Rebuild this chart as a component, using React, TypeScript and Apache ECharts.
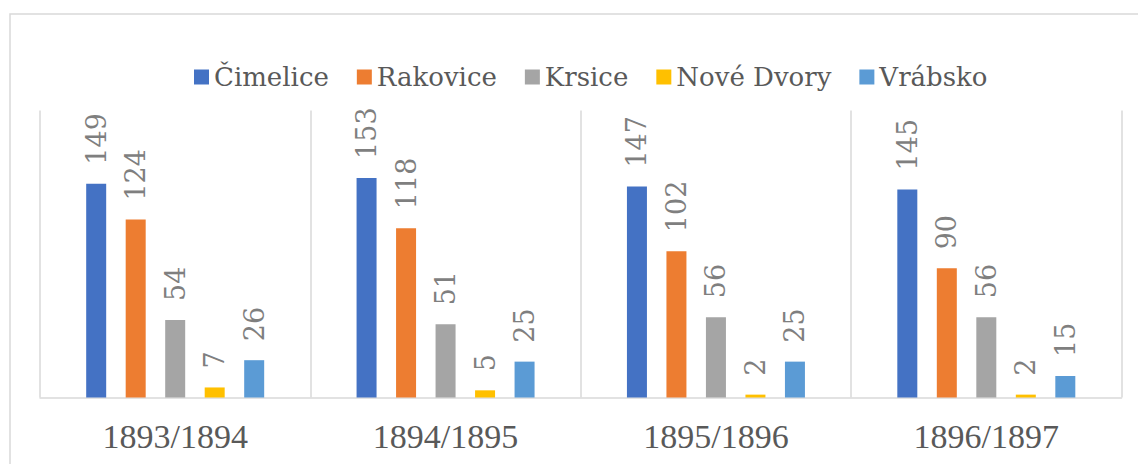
import React, { useEffect, useRef } from "react";
import * as echarts from "echarts";

const categories = ["1893/1894", "1894/1895", "1895/1896", "1896/1897"];
const seriesNames = ["Čimelice", "Rakovice", "Krsice", "Nové Dvory", "Vrábsko"];
const cimelice = [149, 153, 147, 145];
const rakovice = [124, 118, 102, 90];
const krsice = [54, 51, 56, 56];
const noveDvory = [7, 5, 2, 2];
const vrabsko = [26, 25, 25, 15];
const colors = ["#4472c4", "#ed7d31", "#a5a5a5", "#ffc000", "#5b9bd5"];

const FONT = "Liberation Serif";
const FONT2 = "DejaVu Serif";

export default function App() {
  const ref = useRef<HTMLDivElement>(null);
  useEffect(() => {
    if (!ref.current) return;
    const chart = echarts.init(ref.current, null, { renderer: "svg" });
    const values = [cimelice, rakovice, krsice, noveDvory, vrabsko];
    chart.setOption({
      animation: false,
      backgroundColor: "#ffffff",
      graphic: [
        {
          type: "rect",
          shape: { x: 10, y: 14, width: 1140, height: 470 },
          style: { fill: "none", stroke: "#d9d9d9", lineWidth: 1.5 },
          silent: true,
        },
      ],
      legend: {
        left: 189,
        top: 59,
        itemWidth: 15,
        itemHeight: 15,
        itemGap: 28,
        icon: "rect",
        textStyle: {
          fontFamily: FONT2,
          fontSize: 26,
          color: "#595959",
        },
        data: seriesNames,
      },
      grid: { left: 40, right: 16.5, top: 110.5, bottom: 66.5, containLabel: false },
      xAxis: {
        type: "category",
        data: categories,
        axisLine: { show: true, lineStyle: { color: "#d9d9d9", width: 1.5 } },
        axisTick: { show: false },
        splitLine: { show: true, lineStyle: { color: "#d9d9d9", width: 1.5 } },
        axisLabel: {
          fontFamily: FONT,
          fontSize: 34,
          color: "#595959",
          margin: 22,
        },
      },
      yAxis: {
        type: "value",
        min: 0,
        max: 200,
        show: false,
        splitLine: { show: false },
      },
      series: seriesNames.map((name, i) => ({
        name,
        type: "bar",
        data: values[i],
        barWidth: 20,
        barGap: "97.5%",
        itemStyle: { color: colors[i] },
        label: {
          show: true,
          position: "top",
          rotate: 90,
          align: "left",
          verticalAlign: "middle",
          distance: 19,
          fontFamily: FONT2,
          fontSize: 27,
          color: "#7f7f7f",
        },
      })),
    });
    return () => chart.dispose();
  }, []);
  return (
    <div
      ref={ref}
      style={{ position: "fixed", left: 0, top: 0, width: 1138, height: 464 }}
    />
  );
}
